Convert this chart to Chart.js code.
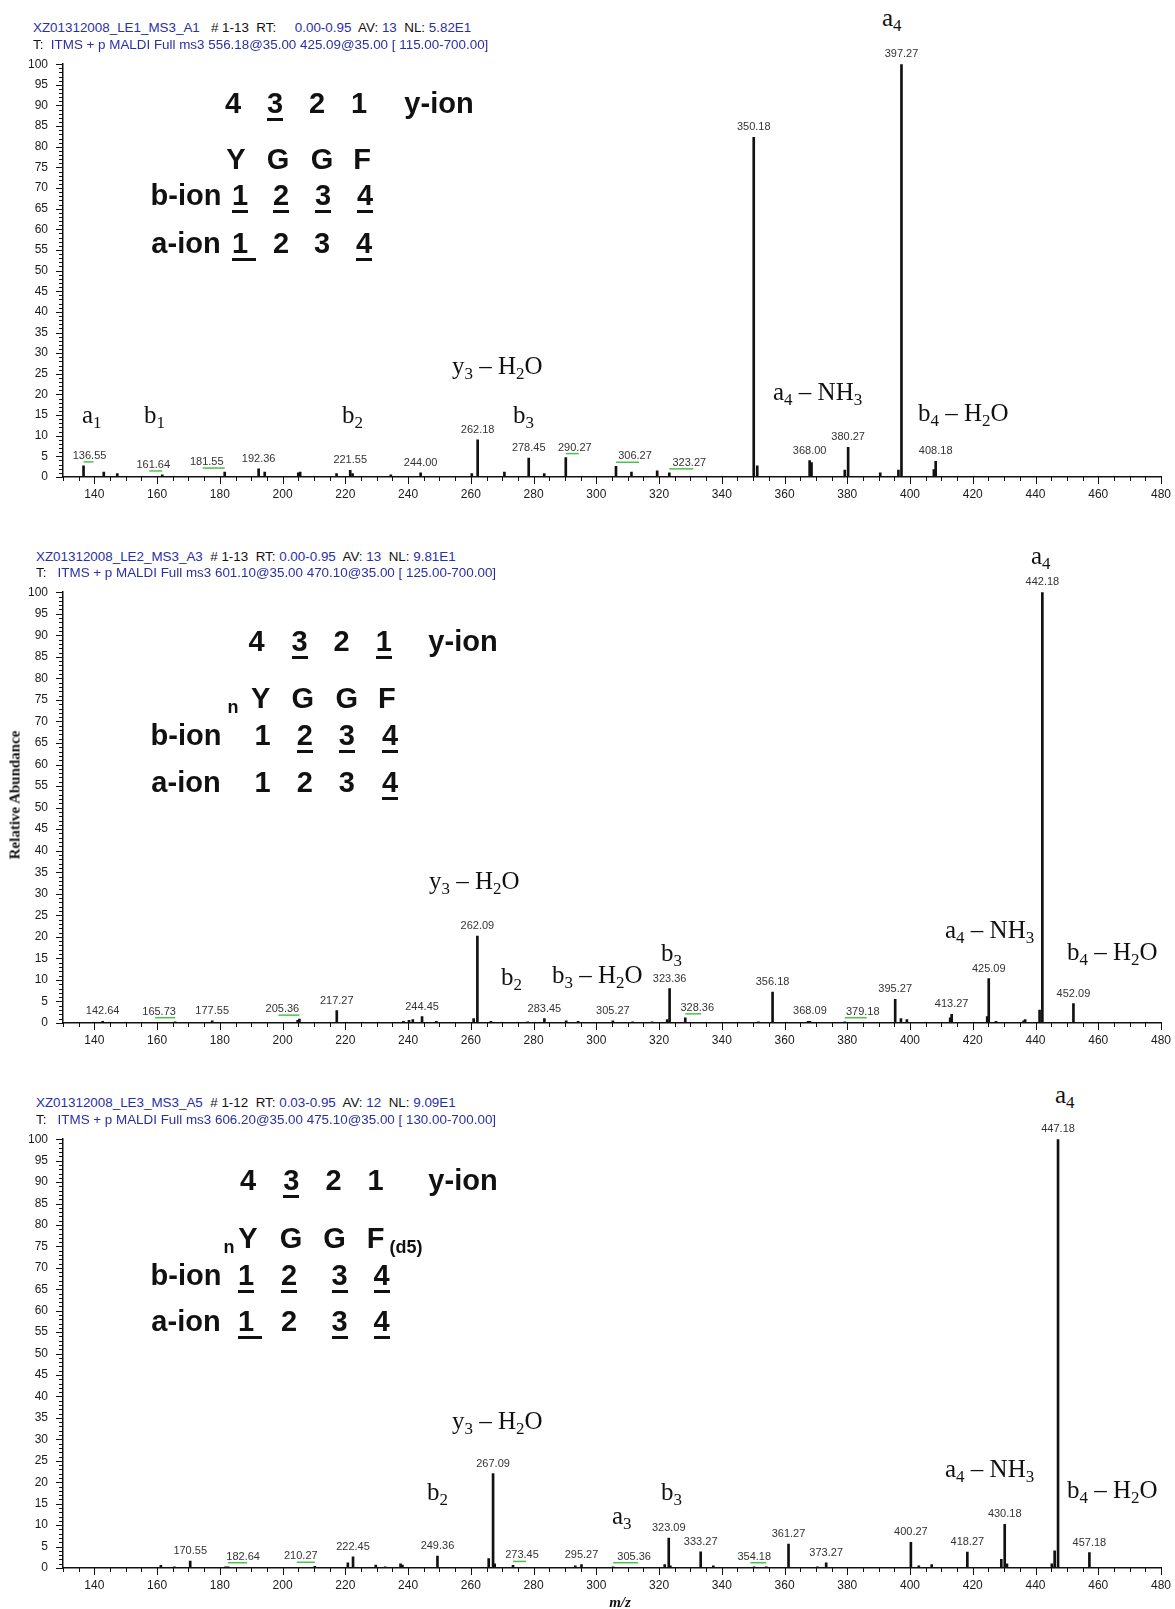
<!DOCTYPE html>
<html>
<head>
<meta charset="utf-8">
<title>MS3 spectra of YGGF peptides</title>
<script src="https://cdn.jsdelivr.net/npm/chart.js@4.4.1/dist/chart.umd.min.js"></script>
<style>
  html, body { margin:0; padding:0; background:#fff; }
  #page { position:relative; width:1175px; height:1609px; overflow:hidden; font-family:"Liberation Sans", Arial, sans-serif; }
  #page canvas { position:absolute; left:0; }
  .hdr { position:absolute; font-size:13.4px; line-height:1; white-space:pre; color:#111; transform:translateY(-50%); }
  .hdr .v { color:#2a2fa6; }
  .ion { position:absolute; font-family:"Liberation Serif","Times New Roman",serif; font-size:25px; line-height:1; white-space:pre; color:#111; transform:translateY(-50%); }
  .ion sub { font-size:17px; line-height:0; vertical-align:-5px; }
  .seq { position:absolute; font-weight:bold; font-size:29px; line-height:1; white-space:pre; color:#111; transform:translate(-50%,-50%); }
  .seq.small { font-size:18px; }
  .ul { position:absolute; height:3px; background:#111; }
  .title { position:absolute; font-family:"Liberation Serif","Times New Roman",serif; font-weight:bold; color:#111; white-space:pre; line-height:1; }
</style>
</head>
<body>
<div id="page"></div>
<script>
// ---- shared axes ----
const mzRange = [130, 480];
const mzTickLabels = [140, 160, 180, 200, 220, 240, 260, 280, 300, 320, 340, 360, 380, 400, 420, 440, 460, 480];
const abundanceTickLabels = [0, 5, 10, 15, 20, 25, 30, 35, 40, 45, 50, 55, 60, 65, 70, 75, 80, 85, 90, 95, 100];

// ---- spectrum 1: LE1_MS3_A1 ----
const spec1Mz = [136.55, 143.0, 147.3, 161.64, 181.55, 192.36, 194.3, 205.0, 205.6, 217.2, 221.55, 222.3,
  234.5, 244.00, 260.3, 262.18, 270.7, 278.45, 283.4, 290.27, 306.27, 311.2, 319.4, 323.27,
  350.18, 351.3, 368.00, 368.6, 379.2, 380.27, 390.5, 396.3, 397.27, 407.6, 408.18];
const spec1Abundance = [2.7, 1.2, 0.8, 0.5, 1.2, 2.0, 1.2, 1.0, 1.2, 0.8, 1.6, 0.8,
  0.5, 1.0, 0.8, 9.0, 1.2, 4.6, 0.8, 4.7, 2.6, 1.2, 1.5, 1.0,
  82.3, 2.7, 4.0, 3.5, 1.7, 7.2, 1.0, 1.7, 100, 1.8, 3.8];
const spec1Labelled = [136.55, 161.64, 181.55, 192.36, 221.55, 244.00, 262.18, 278.45, 290.27, 306.27,
  323.27, 350.18, 368.00, 380.27, 397.27, 408.18];

// ---- spectrum 2: LE2_MS3_A3 ----
const spec2Mz = [142.64, 165.73, 177.55, 204.8, 205.36, 217.27, 238.5, 240.3, 241.5, 244.45, 249.0, 260.9,
  262.09, 266.4, 278.1, 283.45, 290.4, 294.2, 305.27, 311.6, 317.8, 322.6, 323.36, 328.36,
  351.7, 356.18, 367.5, 368.09, 379.18, 395.27, 397.1, 399.0, 412.8, 413.27, 424.6, 425.09,
  427.4, 436.2, 436.7, 441.3, 442.18, 452.09];
const spec2Abundance = [0.4, 0.3, 0.5, 0.6, 0.9, 2.9, 0.4, 0.6, 0.8, 1.5, 0.4, 1.0,
  20.2, 0.4, 0.3, 1.0, 0.5, 0.4, 0.5, 0.3, 0.3, 0.8, 8.0, 1.2,
  0.3, 7.2, 0.4, 0.4, 0.3, 5.5, 1.0, 0.8, 1.2, 2.0, 1.5, 10.3,
  0.4, 0.5, 0.8, 3.0, 100, 4.5];
const spec2Labelled = [142.64, 165.73, 177.55, 205.36, 217.27, 244.45, 262.09, 283.45, 305.27, 323.36,
  328.36, 356.18, 368.09, 379.18, 395.27, 413.27, 425.09, 442.18, 452.09];

// ---- spectrum 3: LE3_MS3_A5 ----
const spec3Mz = [161.2, 165.5, 170.55, 181.8, 182.64, 210.27, 220.8, 222.45, 229.7, 232.7, 237.6, 238.2,
  249.36, 265.7, 267.09, 267.6, 273.45, 293.3, 295.27, 305.36, 321.8, 323.09, 323.6, 333.27,
  337.3, 350.3, 354.18, 361.27, 370.5, 373.27, 400.27, 402.8, 406.9, 418.27, 429.1, 430.18,
  430.9, 445.2, 446.1, 447.18, 457.18];
const spec3Abundance = [0.6, 0.3, 1.6, 0.3, 0.3, 0.4, 1.2, 2.6, 0.7, 0.3, 1.0, 0.7,
  2.8, 2.2, 22.0, 1.0, 0.6, 0.5, 0.8, 0.3, 0.8, 7.0, 0.5, 3.8,
  0.5, 0.3, 0.3, 5.6, 0.3, 1.2, 6.0, 0.5, 0.8, 3.7, 2.0, 10.2,
  1.0, 1.0, 4.0, 100, 3.6];
const spec3Labelled = [170.55, 182.64, 210.27, 222.45, 249.36, 267.09, 273.45, 295.27, 305.36, 323.09,
  333.27, 354.18, 361.27, 373.27, 400.27, 418.27, 430.18, 447.18, 457.18];

// Labels pushed sideways (px) get a green leader back to their peak.
const labelShift1 = { '136.55': 6, '161.64': -9, '181.55': -18, '290.27': 9, '306.27': 19, '323.27': 20 };
const labelShift2 = { '165.73': -16, '205.36': -17, '328.36': 12, '379.18': 18 };
const labelShift3 = { '182.64': 15, '210.27': -14, '273.45': 9, '305.36': 21, '354.18': -12 };

const SANS = '"Liberation Sans", Arial, sans-serif';
const page = document.getElementById('page');

// Tick marks: long at labelled values, short in between.
const axisTicks = {
  id: 'axisTicks',
  afterDraw(chart) {
    const { ctx, chartArea, scales: { x, y } } = chart;
    ctx.save();
    ctx.strokeStyle = '#111';
    ctx.lineWidth = 1;
    ctx.beginPath();
    for (let v = y.min; v <= y.max; v += 1) {
      const py = Math.round(y.getPixelForValue(v)) + 0.5;
      const len = abundanceTickLabels.includes(v) ? 7 : 4;
      ctx.moveTo(chartArea.left - len, py);
      ctx.lineTo(chartArea.left, py);
    }
    for (let v = x.min; v <= x.max; v += 5) {
      const px = Math.round(x.getPixelForValue(v)) + 0.5;
      const len = mzTickLabels.includes(v) ? 7 : 4;
      ctx.moveTo(px, chartArea.bottom);
      ctx.lineTo(px, chartArea.bottom + len);
    }
    ctx.stroke();
    ctx.restore();
  }
};

// m/z value printed above each labelled peak.
const peakLabels = {
  id: 'peakLabels',
  afterDatasetsDraw(chart, args, opts) {
    const { ctx, scales: { x, y } } = chart;
    ctx.save();
    ctx.font = '11px ' + SANS;
    ctx.textAlign = 'center';
    ctx.textBaseline = 'middle';
    opts.labels.forEach(mz => {
      const i = opts.mz.indexOf(mz);
      if (i < 0) return;
      const px = x.getPixelForValue(mz);
      const top = y.getPixelForValue(opts.abundance[i]);
      const key = mz.toFixed(2);
      const dx = opts.shift[key] || 0;
      const ly = top - 10;
      if (dx) {
        ctx.strokeStyle = '#49c24a';
        ctx.lineWidth = 1.5;
        ctx.beginPath();
        ctx.moveTo(px, ly + 6);
        ctx.lineTo(px + dx + (dx > 0 ? 4 : -4), ly + 6);
        ctx.stroke();
      }
      ctx.fillStyle = '#333';
      ctx.fillText(key, px + dx, ly);
    });
    ctx.restore();
  }
};

function drawSpectrum(mz, abundance, labelled, shift, frame) {
  const canvasTop = Math.round(frame.top - 22);
  const canvasHeight = Math.round(frame.bottom) - canvasTop + 30;
  const cv = document.createElement('canvas');
  cv.width = 1175;
  cv.height = canvasHeight;
  cv.style.top = canvasTop + 'px';
  cv.style.width = '1175px';
  cv.style.height = canvasHeight + 'px';
  page.appendChild(cv);

  new Chart(cv.getContext('2d'), {
    type: 'bar',
    data: {
      datasets: [{
        data: mz.map((m, i) => ({ x: m, y: abundance[i] })),
        backgroundColor: '#111',
        borderWidth: 0,
        barThickness: 2
      }]
    },
    options: {
      responsive: false,
      animation: false,
      devicePixelRatio: 1,
      layout: { padding: { top: frame.top - canvasTop, left: 0, right: 14, bottom: 0 } },
      plugins: {
        legend: { display: false },
        tooltip: { enabled: false },
        peakLabels: { mz, abundance, labels: labelled, shift }
      },
      scales: {
        x: {
          type: 'linear',
          min: mzRange[0],
          max: mzRange[1],
          offset: false,
          grid: { display: false, drawTicks: false, offset: false },
          border: { display: true, color: '#111', width: 1.5 },
          ticks: {
            stepSize: 5,
            autoSkip: false,
            maxRotation: 0,
            padding: 10,
            color: '#1a1a1a',
            font: { family: SANS, size: 12 },
            callback: v => (mzTickLabels.includes(v) ? String(v) : '')
          },
          afterFit: s => { s.height = 30; s.paddingLeft = 0; s.paddingRight = 0; }
        },
        y: {
          min: 0,
          max: 100,
          grid: { display: false, drawTicks: false },
          border: { display: true, color: '#111', width: 1.5 },
          ticks: {
            stepSize: 5,
            autoSkip: false,
            padding: 15,
            color: '#1a1a1a',
            font: { family: SANS, size: 12 },
            callback: v => (abundanceTickLabels.includes(v) ? String(v) : '')
          },
          afterFit: s => { s.width = 63; }
        }
      }
    },
    plugins: [axisTicks, peakLabels]
  });
}

drawSpectrum(spec1Mz, spec1Abundance, spec1Labelled, labelShift1, { top: 63.6, bottom: 477.2 });
drawSpectrum(spec2Mz, spec2Abundance, spec2Labelled, labelShift2, { top: 592.1, bottom: 1023.1 });
drawSpectrum(spec3Mz, spec3Abundance, spec3Labelled, labelShift3, { top: 1139.1, bottom: 1568.0 });

// ---- scan headers ----
function addHeader(html, x, y) {
  const d = document.createElement('div');
  d.className = 'hdr';
  d.style.left = x + 'px';
  d.style.top = y + 'px';
  d.innerHTML = html;
  page.appendChild(d);
}
addHeader('<span class="v">XZ01312008_LE1_MS3_A1</span>   # 1-13  RT:     <span class="v">0.00-0.95</span>  AV: <span class="v">13</span>  NL: <span class="v">5.82E1</span>', 33, 28);
addHeader('T:  <span class="v">ITMS + p MALDI Full ms3 556.18@35.00 425.09@35.00 [ 115.00-700.00]</span>', 33, 45);
addHeader('<span class="v">XZ01312008_LE2_MS3_A3</span>  # 1-13  RT: <span class="v">0.00-0.95</span>  AV: <span class="v">13</span>  NL: <span class="v">9.81E1</span>', 36, 557);
addHeader('T:   <span class="v">ITMS + p MALDI Full ms3 601.10@35.00 470.10@35.00 [ 125.00-700.00]</span>', 36, 573);
addHeader('<span class="v">XZ01312008_LE3_MS3_A5</span>  # 1-12  RT: <span class="v">0.03-0.95</span>  AV: <span class="v">12</span>  NL: <span class="v">9.09E1</span>', 36, 1103);
addHeader('T:   <span class="v">ITMS + p MALDI Full ms3 606.20@35.00 475.10@35.00 [ 130.00-700.00]</span>', 36, 1120);

// ---- fragment ion annotations ----
const ionAnnotations = [
  ['a<sub>4</sub>', 882, 17],
  ['y<sub>3</sub> – H<sub>2</sub>O', 452, 365],
  ['a<sub>1</sub>', 82, 414],
  ['b<sub>1</sub>', 144, 414],
  ['b<sub>2</sub>', 342, 414],
  ['b<sub>3</sub>', 513, 414],
  ['a<sub>4</sub> – NH<sub>3</sub>', 773, 391],
  ['b<sub>4</sub> – H<sub>2</sub>O', 918, 412],
  ['a<sub>4</sub>', 1031, 555],
  ['y<sub>3</sub> – H<sub>2</sub>O', 429, 880],
  ['b<sub>2</sub>', 501, 976],
  ['b<sub>3</sub> – H<sub>2</sub>O', 552, 974],
  ['b<sub>3</sub>', 661, 952],
  ['a<sub>4</sub> – NH<sub>3</sub>', 945, 929],
  ['b<sub>4</sub> – H<sub>2</sub>O', 1067, 951],
  ['a<sub>4</sub>', 1055, 1094],
  ['y<sub>3</sub> – H<sub>2</sub>O', 452, 1420],
  ['b<sub>2</sub>', 427, 1491],
  ['b<sub>3</sub>', 661, 1491],
  ['a<sub>3</sub>', 612, 1515],
  ['a<sub>4</sub> – NH<sub>3</sub>', 945, 1468],
  ['b<sub>4</sub> – H<sub>2</sub>O', 1067, 1489]
];
ionAnnotations.forEach(([html, x, y]) => {
  const d = document.createElement('div');
  d.className = 'ion';
  d.style.left = x + 'px';
  d.style.top = y + 'px';
  d.innerHTML = html;
  page.appendChild(d);
});

// ---- peptide sequence / fragment coverage blocks ----
// item: [text, centre x, underline (0 none, 1 normal, 2 long), css class, vertical shift]
const sequenceBlocks = [
  { y: 102.6, items: [['4', 233], ['3', 275, 1], ['2', 317], ['1', 359], ['y-ion', 439]] },
  { y: 159, items: [['Y', 236], ['G', 278], ['G', 322], ['F', 362]] },
  { y: 195, items: [['b-ion', 186], ['1', 240, 1], ['2', 281, 1], ['3', 323, 1], ['4', 365, 1]] },
  { y: 243, items: [['a-ion', 186], ['1', 240, 2], ['2', 281], ['3', 322], ['4', 364, 1]] },

  { y: 641, items: [['4', 256.5], ['3', 299.6, 1], ['2', 341.7], ['1', 383.8, 1], ['y-ion', 463]] },
  { y: 698, items: [['n', 233, 0, 'small', 9], ['Y', 260.6], ['G', 302.7], ['G', 346.9], ['F', 386.9]] },
  { y: 735, items: [['b-ion', 186], ['1', 262.7], ['2', 304.8, 1], ['3', 346.9, 1], ['4', 390, 1]] },
  { y: 782, items: [['a-ion', 186], ['1', 262.7], ['2', 304.8], ['3', 346.9], ['4', 390, 1]] },

  { y: 1180, items: [['4', 248], ['3', 291.4, 1], ['2', 333.5], ['1', 375.6], ['y-ion', 463]] },
  { y: 1237.6, items: [['n', 229, 0, 'small', 9], ['Y', 248], ['G', 291], ['G', 334.5], ['F', 375.6], ['(d5)', 406, 0, 'small', 9]] },
  { y: 1274.5, items: [['b-ion', 186], ['1', 246, 1], ['2', 289, 1], ['3', 339.7, 1], ['4', 381.7, 1]] },
  { y: 1320.7, items: [['a-ion', 186], ['1', 246, 2], ['2', 289], ['3', 339.7, 1], ['4', 381.7, 1]] }
];
sequenceBlocks.forEach(row => {
  row.items.forEach(([t, x, ul, cls, dy]) => {
    const d = document.createElement('div');
    d.className = 'seq' + (cls ? ' ' + cls : '');
    d.style.left = x + 'px';
    d.style.top = (row.y + (dy || 0)) + 'px';
    d.textContent = t;
    page.appendChild(d);
    if (ul) {
      const u = document.createElement('div');
      u.className = 'ul';
      const w = ul === 2 ? 24 : 16;
      u.style.left = (x - 8) + 'px';
      u.style.width = w + 'px';
      u.style.top = (row.y + 15) + 'px';
      page.appendChild(u);
    }
  });
});

// ---- axis titles ----
const yTitle = document.createElement('div');
yTitle.className = 'title';
yTitle.textContent = 'Relative Abundance';
yTitle.style.fontSize = '15px';
yTitle.style.left = '15px';
yTitle.style.top = '795px';
yTitle.style.transform = 'translate(-50%,-50%) rotate(-90deg)';
page.appendChild(yTitle);

const xTitle = document.createElement('div');
xTitle.className = 'title';
xTitle.textContent = 'm/z';
xTitle.style.fontSize = '15px';
xTitle.style.fontStyle = 'italic';
xTitle.style.left = '620px';
xTitle.style.top = '1602px';
xTitle.style.transform = 'translate(-50%,-50%)';
page.appendChild(xTitle);
</script>
</body>
</html>
